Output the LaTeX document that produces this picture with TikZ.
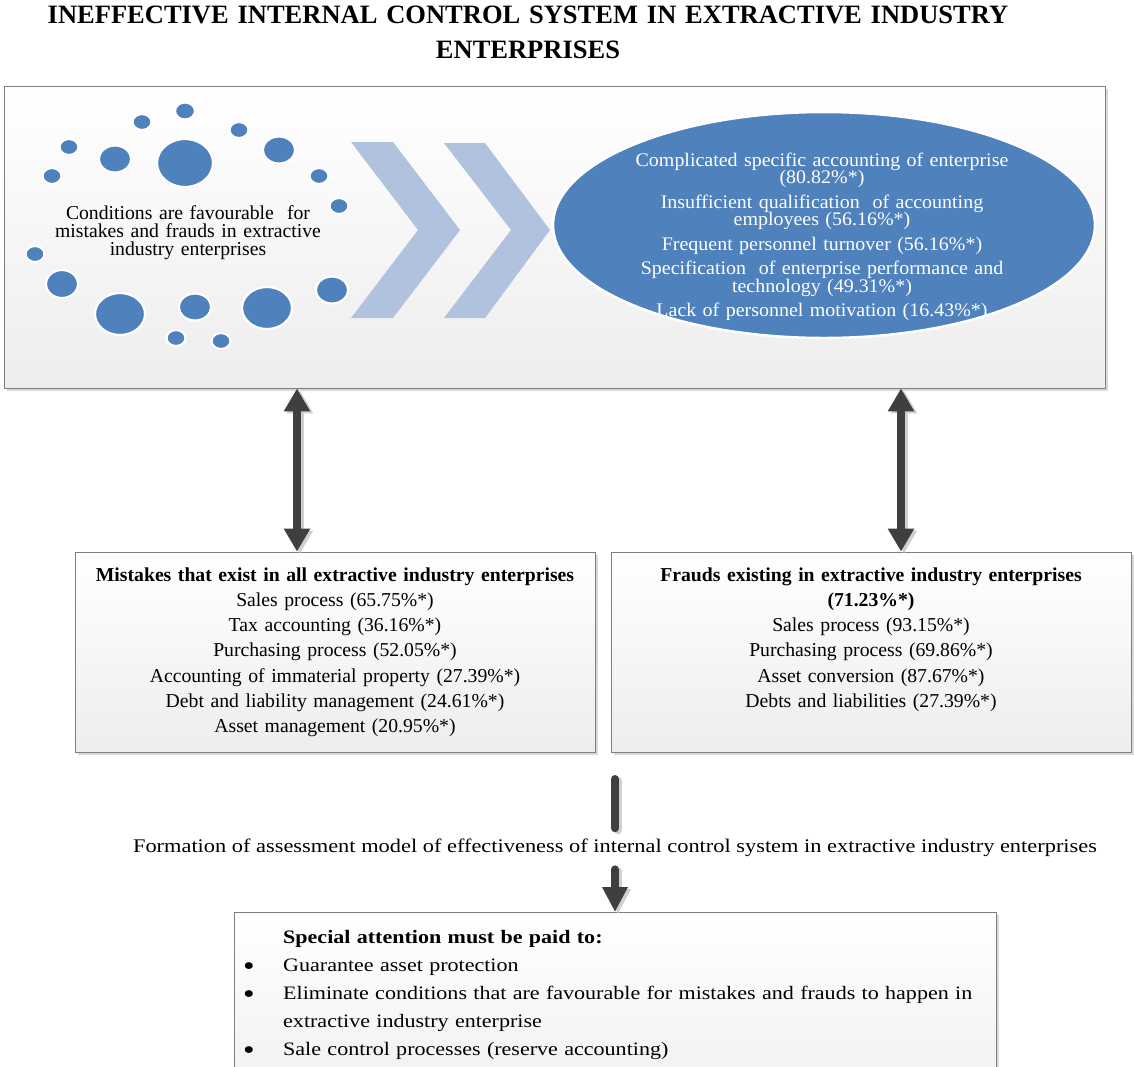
\documentclass[tikz,border=0pt]{standalone}
\usepackage{fontspec}
\setmainfont{Liberation Serif}
\newfontfamily\widefont[FakeStretch=1.16]{Liberation Serif}
\newfontfamily\ellfont[FakeStretch=1.04]{Liberation Serif}
\usetikzlibrary{arrows.meta,shadows,calc}
\definecolor{blu}{HTML}{4F81BD}
\definecolor{chev}{HTML}{B1C2DE}
\definecolor{arr}{HTML}{3F3F3F}
\definecolor{bord}{HTML}{7F7F7F}
\definecolor{shd}{HTML}{CFCFCF}
\newcommand{\bigbul}{\makebox[49pt][l]{\hspace{9pt}\raisebox{-4pt}{\scalebox{1.5}{\textbullet}}}}
\begin{document}
\begin{tikzpicture}[x=1pt,y=-1pt,
  panel/.style={draw=bord, line width=0.9pt, top color=white, bottom color=black!7,
    drop shadow={shadow xshift=3pt, shadow yshift=-3pt, fill=black, opacity=0.15}},
  dot/.style={fill=blu, draw=white, line width=2.2pt},
  chevron/.style={fill=chev},
  dblarrow/.style={draw=arr, line width=8pt, {Triangle[width=25pt,length=23pt]}-{Triangle[width=25pt,length=23pt]}},
  sglarrow/.style={draw=arr, line width=8pt, line cap=round, -{Triangle[width=24pt,length=25pt]}},
  stub/.style={draw=arr, line width=8pt, line cap=round},
  shadowed/.style={draw=shd, transform canvas={xshift=3pt,yshift=-2pt}},
  body/.style={font=\fontsize{19.7}{25.3}\selectfont, align=center, inner sep=0pt, anchor=base},
  tight/.style={execute at begin node={\lineskiplimit=-30pt\relax}},
]
\useasboundingbox (0,0) rectangle (1134,1066);
\clip (0,0) rectangle (1134,1066);
\fill[white] (0,0) rectangle (1134,1066);

% title
\node[font=\bfseries\fontsize{26.5}{35}\selectfont, align=center, text width=1100pt,
  anchor=base, inner sep=0pt] (title) at (528,23)
  {INEFFECTIVE INTERNAL CONTROL SYSTEM IN EXTRACTIVE INDUSTRY\\ENTERPRISES};

% top panel
\node[panel, minimum width=1101pt, minimum height=302pt, inner sep=0pt] (topbox) at (554.5,237) {};

% dots
\foreach \x/\y/\a/\b in {185/111/10/8.5, 142/122/9.5/8, 239/130/9.5/8, 69/147/9.5/8,
  115/159/16/13.5, 185/163/28/24, 279/150/16/13.5, 52/176/9.5/8, 319/176/9.5/8,
  339/206/9.5/8, 35/254/9.5/8, 62/284/16/14, 120/314/25/21, 195/307/16/13.5,
  267/308/25/21, 332/290/16/13.5, 176/338/9.5/8, 221/341/9.5/8}
  \path[dot] (\x,\y) ellipse [x radius=\a, y radius=\b];

\node[tight, font=\fontsize{19.7}{18}\selectfont, align=center, text width=300pt,
  anchor=base, inner sep=0pt] (condtxt) at (188,219)
  {Conditions are favourable\ \ for\\mistakes and frauds in extractive\\industry enterprises};

% chevrons
\fill[chevron] (351,142) -- (393,142) -- (460,230) -- (393,318) -- (351,318) -- (418,230) -- cycle;
\fill[chevron] (444,143) -- (485,143) -- (550,230) -- (485,318) -- (444,318) -- (511,230) -- cycle;

% ellipse
\path[fill=blu, draw=white, line width=2.5pt] (824,225) ellipse [x radius=271, y radius=113];
\node[tight, font=\ellfont\fontsize{19.2}{17.5}\selectfont, text=white, align=center,
  text width=520pt, anchor=base, inner sep=0pt] (elltxt) at (822,166)
  {Complicated specific accounting of enterprise\\(80.82\%*)\\[7pt]
   Insufficient qualification\ \ of accounting\\employees (56.16\%*)\\[7pt]
   Frequent personnel turnover (56.16\%*)\\[7pt]
   Specification\ \ of enterprise performance and\\technology (49.31\%*)\\[7pt]
   Lack of personnel motivation (16.43\%*)};

% middle boxes
\node[panel, minimum width=520pt, minimum height=200pt, inner sep=0pt] (mist) at (335,652) {};
\node[panel, minimum width=520pt, minimum height=200pt, inner sep=0pt] (fraud) at (871,652) {};

\node[body, text width=510pt] (misttxt) at (335,581)
  {\textbf{Mistakes that exist in all extractive industry enterprises}\\
   Sales process (65.75\%*)\\
   Tax accounting (36.16\%*)\\
   Purchasing process (52.05\%*)\\
   Accounting of immaterial property (27.39\%*)\\
   Debt and liability management (24.61\%*)\\
   Asset management (20.95\%*)};

\node[body, text width=510pt] (fraudtxt) at (871,581)
  {\textbf{Frauds existing in extractive industry enterprises}\\
   \textbf{(71.23\%*)}\\
   Sales process (93.15\%*)\\
   Purchasing process (69.86\%*)\\
   Asset conversion (87.67\%*)\\
   Debts and liabilities (27.39\%*)};

% double arrows
\coordinate (la) at ([xshift=-38pt]mist.north);
\coordinate (ra) at ([xshift=30pt]fraud.north);
\draw[dblarrow, shadowed] (la |- topbox.south) -- (la);
\draw[dblarrow, shadowed] (ra |- topbox.south) -- (ra);
\draw[dblarrow] (la |- topbox.south) -- (la);
\draw[dblarrow] (ra |- topbox.south) -- (ra);

% bottom box
\node[panel, minimum width=762pt, minimum height=220pt, anchor=north, inner sep=0pt] (botbox) at (615,912) {};

% formation text and arrow
\coordinate (ftop) at (615,779);
\node[font=\widefont\fontsize{19.3}{22}\selectfont, anchor=base, inner xsep=0pt, inner ysep=5pt] (form) at (615,852)
  {Formation of assessment model of effectiveness of internal control system in extractive industry enterprises};
\draw[stub, shadowed, shorten >=5pt] (ftop) -- (form.north);
\draw[sglarrow, shadowed, shorten <=8pt] (form.south) -- (botbox.north);
\draw[stub, shorten >=5pt] (ftop) -- (form.north);
\draw[sglarrow, shorten <=8pt] (form.south) -- (botbox.north);

\node[font=\widefont\fontsize{19}{28}\selectfont, text width=800pt, align=left,
  anchor=base west, inner sep=0pt] (bottxt) at (234,943)
  {\hspace*{49pt}\textbf{Special attention must be paid to:}\\
   \bigbul Guarantee asset protection\\
   \bigbul Eliminate conditions that are favourable for mistakes and frauds to happen in\\
   \hspace*{49pt}extractive industry enterprise\\
   \bigbul Sale control processes (reserve accounting)};
\end{tikzpicture}
\end{document}
